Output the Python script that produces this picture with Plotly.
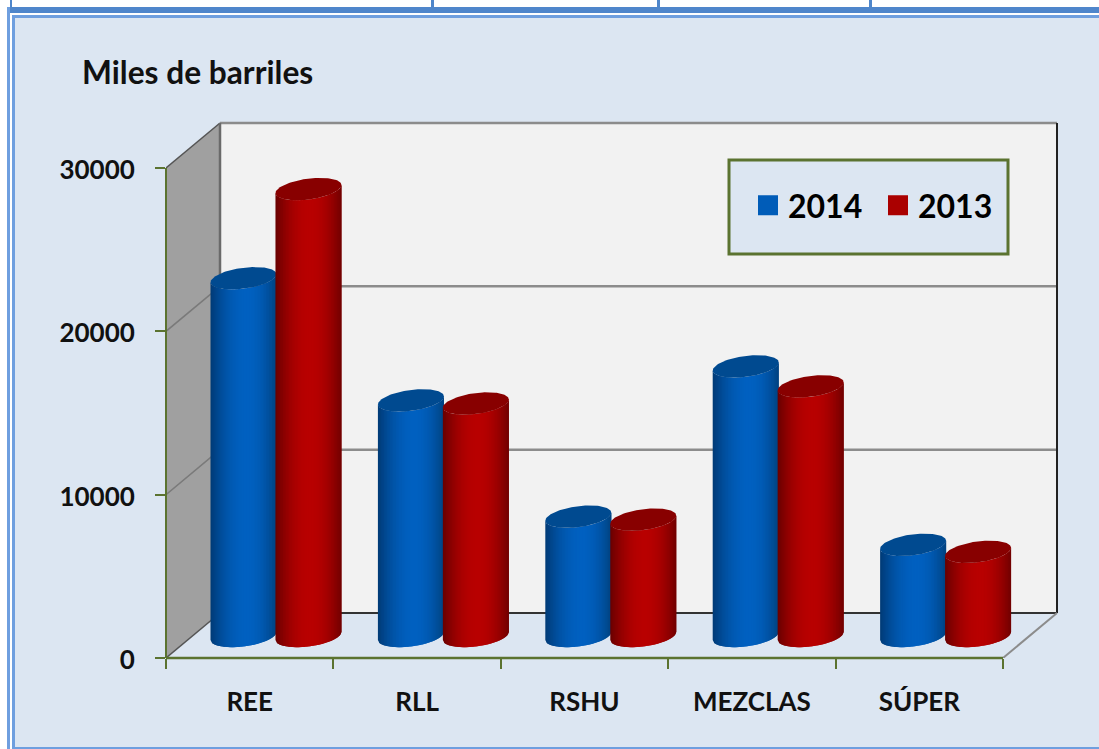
import math
import plotly.graph_objects as go

categories = ["REE", "RLL", "RSHU", "MEZCLAS", "SÚPER"]
series_2014 = [21900, 14420, 7300, 16500, 5580]
series_2013 = [27360, 14230, 7120, 15280, 5150]
y_ticks = [0, 10000, 20000, 30000]
legend_2014 = "2014"
legend_2013 = "2013"
chart_title = "Miles de barriles"

W, H = 1099, 749
X0, X1, Y0, Y1 = 166, 1003, 658, 168   # front plane of the chart in pixels
XE, YE = 1064, 117                     # plot box edges, room for the back wall
PX_X = 5 / (X1 - X0)
PX_Y = 30000 / (Y0 - Y1)
DEPTH_X = 54 * PX_X      # oblique offset of the back wall, in data units
DEPTH_Y = 45 * PX_Y
FONT = "Lato"
GREEN = "#5b7330"
PANEL = "#dce6f2"


def px(xp):
    return (xp - X0) / (XE - X0)


def py(yp):
    return (Y0 - yp) / (Y0 - YE)


def hexrgb(h):
    return [int(h[i:i + 2], 16) for i in (1, 3, 5)]


def mix(a, b, s):
    a, b = hexrgb(a), hexrgb(b)
    return "rgb(%d,%d,%d)" % tuple(round(a[i] + (b[i] - a[i]) * s) for i in range(3))


def shade(pal, t):
    left, bright, right, peak = pal
    if t < peak:
        return mix(left, bright, 1 - abs((t - peak) / peak) ** 2.0)
    return mix(right, bright, 1 - abs((t - peak) / (1 - peak)) ** 2.0)


fig = go.Figure()


def poly(xs, ys, color):
    fig.add_trace(go.Scatter(x=xs, y=ys, mode="lines", fill="toself", fillcolor=color,
                             line=dict(width=0, color=color), cliponaxis=False,
                             showlegend=False, hoverinfo="skip"))


def seg(xs, ys, color, width=2):
    fig.add_trace(go.Scatter(x=xs, y=ys, mode="lines", line=dict(width=width, color=color),
                             cliponaxis=False, showlegend=False, hoverinfo="skip"))


# walls
top = max(y_ticks)
poly([DEPTH_X, 5 + DEPTH_X, 5 + DEPTH_X, DEPTH_X],
     [DEPTH_Y, DEPTH_Y, top + DEPTH_Y, top + DEPTH_Y], "#f2f2f2")
poly([0, DEPTH_X, DEPTH_X, 0], [0, DEPTH_Y, top + DEPTH_Y, top], "#a0a0a0")
for v in y_ticks:
    if v:
        seg([DEPTH_X, 5 + DEPTH_X], [v + DEPTH_Y, v + DEPTH_Y], "#8c8c8c", 2.5)
    seg([0, DEPTH_X], [v, v + DEPTH_Y], "#555555" if v in (0, top) else "#7a7a7a", 1.5)
seg([DEPTH_X, DEPTH_X], [DEPTH_Y, top + DEPTH_Y], "#6a6a6a", 2.5)
seg([5 + DEPTH_X, 5 + DEPTH_X], [DEPTH_Y, top + DEPTH_Y], "#222222")
seg([DEPTH_X, 5 + DEPTH_X], [DEPTH_Y, DEPTH_Y], "#333333")
seg([5, 5 + DEPTH_X], [0, DEPTH_Y], "#8c8c8c")

# cylinders
BLUE = ("#003a75", "#0060c0", "#00427f", 0.55)
RED = ("#680000", "#b80000", "#700000", 0.52)
BLUE_TOP, RED_TOP = "#004a90", "#880000"
MID = 0.49
RX = 33 * PX_X
RY = 10.5 * PX_Y
TILT = 4 * PX_Y
NUDGE = 0.5 * PX_X
STRIPS = 44


def arc(u, sign):
    return sign * RY * math.sqrt(max(0, 1 - u * u)) + TILT * u


def cylinder(cat_i, offset, value, pal, top_color):
    cx = cat_i + 0.5 + offset + MID * DEPTH_X + NUDGE
    base = MID * DEPTH_Y
    for k in range(STRIPS):
        u0 = -1 + 2 * k / STRIPS
        u1 = min(1, -1 + 2 * (k + 2) / STRIPS)
        us = [u0, (u0 + u1) / 2, u1]
        xs = [cx + RX * u for u in us] + [cx + RX * u for u in reversed(us)]
        ys = [base + arc(u, -1) for u in us] + [base + value + arc(u, -1) for u in reversed(us)]
        poly(xs, ys, shade(pal, (k + 0.5) / STRIPS))
    n = 60
    us = [math.cos(math.pi * i / n) for i in range(n + 1)]
    xs = [cx + RX * u for u in us] + [cx + RX * u for u in reversed(us)]
    ys = [base + value + arc(u, 1) for u in us] + [base + value + arc(u, -1) for u in reversed(us)]
    poly(xs, ys, top_color)


for i in range(len(categories)):
    cylinder(i, -0.198, series_2014[i], BLUE, BLUE_TOP)
    cylinder(i, 0.19, series_2013[i], RED, RED_TOP)

# legend entries
for name, color in ((legend_2014, "#005cb8"), (legend_2013, "#aa0000")):
    fig.add_trace(go.Scatter(x=[None], y=[None], mode="markers", name=name,
                             marker=dict(symbol="square", size=16, color=color,
                                         line=dict(width=4, color=color))))


def rect(x0, y0, x1, y1, fill=None, line=None, lw=0, layer="below"):
    fig.add_shape(type="rect", xref="paper", yref="paper", x0=px(x0), x1=px(x1), y0=py(y0), y1=py(y1),
                  fillcolor=fill, line=dict(width=lw, color=line or "rgba(0,0,0,0)"), layer=layer)


def hline(x0, y0, x1, y1, color, lw=2):
    fig.add_shape(type="line", xref="paper", yref="paper", x0=px(x0), x1=px(x1), y0=py(y0), y1=py(y1),
                  line=dict(width=lw, color=color), layer="above")


# frame
BAND = "#4f86cb"
LIGHT = "#6f9fdf"
rect(7, 7, W, 13, BAND)
rect(7, 7, 10, 749, LIGHT)
rect(12, 15, W, 749, PANEL)
rect(12, 15, W, 18, LIGHT)
rect(12, 15, 15, 749, LIGHT)
rect(12, 747, W, 749, LIGHT)
rect(10, 0, 12, 7, BAND)
for xv in (432, 658, 870):
    rect(xv - 1, 0, xv + 2, 7, BAND)
# legend box
rect(729, 160, 1008, 254, PANEL, "#5b7330", 3, layer="above")
# front axis lines
hline(X0, Y0, X1, Y0, GREEN, 2.5)
hline(X0, Y0, X0, Y1, GREEN, 2)

fig.update_layout(
    width=W, height=H, autosize=False,
    margin=dict(l=X0, r=W - XE, t=YE, b=H - Y0, pad=0, autoexpand=False),
    paper_bgcolor="white", plot_bgcolor="rgba(0,0,0,0)",
    font=dict(family=FONT, color="#000000"),
    title=dict(text=chart_title, x=82 / W, xanchor="left", xref="container",
               y=1 - 73 / H, yanchor="middle", yref="container",
               font=dict(family=FONT, size=31.7, weight=700, color="#111111")),
    showlegend=True,
    legend=dict(orientation="h", x=px(748), y=py(178), xanchor="left", yanchor="top",
                bgcolor="rgba(0,0,0,0)", borderwidth=0, itemsizing="trace",
                entrywidth=85, entrywidthmode="pixels",
                font=dict(family=FONT, size=32, weight=700, color="#000000"),
                traceorder="normal", itemclick=False, itemdoubleclick=False),
    xaxis=dict(range=[0, (XE - X0) * PX_X], tickmode="array", tickvals=[i + 0.5 for i in range(5)],
               ticktext=categories, ticks="", showgrid=False, zeroline=False, showline=False,
               tickfont=dict(family=FONT, size=26, weight=700, color="#111111"), ticklabelstandoff=26,
               minor=dict(tickmode="array", tickvals=list(range(6)), ticks="outside", ticklen=10,
                          tickwidth=2, tickcolor=GREEN, showgrid=False)),
    yaxis=dict(range=[0, (Y0 - YE) * PX_Y], tickmode="array", tickvals=y_ticks, ticks="outside", ticklen=10,
               tickwidth=2, tickcolor=GREEN, showgrid=False, zeroline=False, showline=False,
               tickformat="d", ticklabelshift=2,
               tickfont=dict(family=FONT, size=26, weight=700, color="#111111"), ticklabelstandoff=15),
)

fig.write_html("out.html", config=dict(displayModeBar=False, responsive=False),
               post_script="document.body.style.margin='0';document.documentElement.style.overflow='hidden';")
